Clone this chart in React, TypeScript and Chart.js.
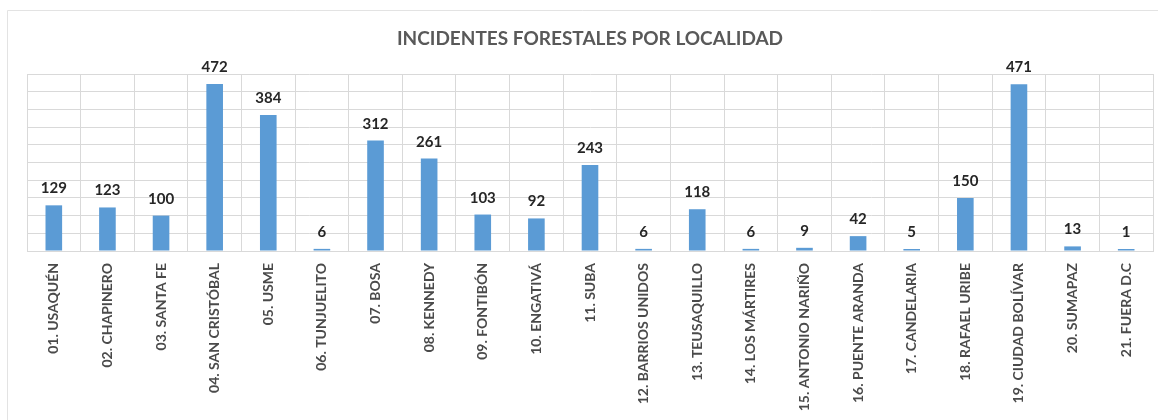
import React, { useEffect, useRef } from "react";
import { Chart, registerables } from "chart.js";

Chart.register(...registerables);

const TITLE = "INCIDENTES FORESTALES POR LOCALIDAD";
const categories = [
  "01. USAQUÉN",
  "02. CHAPINERO",
  "03. SANTA FE",
  "04. SAN CRISTÓBAL",
  "05. USME",
  "06. TUNJUELITO",
  "07. BOSA",
  "08. KENNEDY",
  "09. FONTIBÓN",
  "10. ENGATIVÁ",
  "11. SUBA",
  "12. BARRIOS UNIDOS",
  "13. TEUSAQUILLO",
  "14. LOS MÁRTIRES",
  "15. ANTONIO NARIÑO",
  "16. PUENTE ARANDA",
  "17. CANDELARIA",
  "18. RAFAEL URIBE",
  "19. CIUDAD BOLÍVAR",
  "20. SUMAPAZ",
  "21. FUERA D.C",
];
const incidents = [129, 123, 100, 472, 384, 6, 312, 261, 103, 92, 243, 6, 118, 6, 9, 42, 5, 150, 471, 13, 1];
const yMax = 500;
const yStep = 50;

const BAR = "#5B9BD5";
const GRID = "#d9d9d9";

const decorPlugin = {
  id: "decor",
  beforeDraw(chart: any) {
    const ctx = chart.ctx;
    ctx.save();
    ctx.strokeStyle = "#e3e3e3";
    ctx.lineWidth = 1;
    ctx.beginPath();
    ctx.moveTo(7.5, chart.height);
    ctx.lineTo(7.5, 10.5);
    ctx.lineTo(chart.width, 10.5);
    ctx.stroke();
    ctx.restore();
  },
  afterDatasetsDraw(chart: any) {
    const ctx = chart.ctx;
    const area = chart.chartArea;
    ctx.save();
    // title
    ctx.fillStyle = "#595959";
    ctx.font = 'bold 19px "Lato"';
    ctx.textAlign = "center";
    ctx.textBaseline = "alphabetic";
    ctx.fillText(TITLE, (area.left + area.right) / 2, 45);
    // data labels
    ctx.fillStyle = "#262626";
    ctx.font = 'bold 15px "Lato"';
    const meta = chart.getDatasetMeta(0);
    meta.data.forEach((bar: any, i: number) => {
      ctx.fillText(String(chart.data.datasets[0].data[i]), bar.x, bar.y - 12);
    });
    ctx.restore();
  },
};

export default function App() {
  const ref = useRef<HTMLCanvasElement | null>(null);
  useEffect(() => {
    if (!ref.current) return;
    const chart = new Chart(ref.current, {
      type: "bar",
      data: {
        labels: categories,
        datasets: [
          {
            data: incidents,
            backgroundColor: BAR,
            borderWidth: 0,
            barPercentage: 0.62,
            categoryPercentage: 0.5,
            minBarLength: 2,
          },
        ],
      },
      options: {
        animation: false,
        responsive: false,
        maintainAspectRatio: false,
        layout: { padding: { left: 27, right: 5, top: 74, bottom: 0 } },
        plugins: {
          legend: { display: false },
          title: { display: false },
          tooltip: { enabled: false },
        },
        scales: {
          x: {
            grid: { color: GRID, drawTicks: false, offset: true },
            border: { color: GRID },
            ticks: {
              autoSkip: false,
              minRotation: 90,
              maxRotation: 90,
              padding: 12,
              color: "#4a4a4a",
              font: { family: "Lato", weight: "bold", size: 14 },
            },
            afterFit: (scale: any) => {
              scale.height = 169;
            },
          },
          y: {
            min: 0,
            max: yMax,
            grid: { color: GRID, drawTicks: false },
            border: { color: GRID },
            ticks: { display: false, stepSize: yStep },
            afterFit: (scale: any) => {
              scale.width = 0;
            },
          },
        },
      },
      plugins: [decorPlugin],
    });
    return () => chart.destroy();
  }, []);
  return (
    <div style={{ position: "absolute", left: 0, top: 0, width: 1158, height: 420, background: "#fff" }}>
      <canvas ref={ref} width={1158} height={420} style={{ width: 1158, height: 420 }} />
    </div>
  );
}
